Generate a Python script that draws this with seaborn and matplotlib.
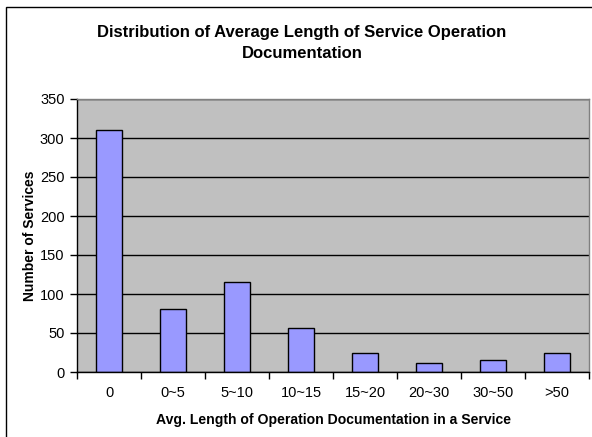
import numpy as np
import pandas as pd
import matplotlib
matplotlib.use('Agg')
import matplotlib.pyplot as plt
import seaborn as sns
from matplotlib.patches import Rectangle

# values
categories = ['0', '0~5', '5~10', '10~15', '15~20', '20~30', '30~50', '>50']
services = [310, 81, 115, 57, 24, 12, 16, 24]

df = pd.DataFrame({'bucket': categories, 'count': services})

sns.set_style('white')
plt.rcParams['font.family'] = ['Liberation Sans', 'DejaVu Sans']
plt.rcParams.update({'text.color': 'black', 'axes.labelcolor': 'black',
                     'xtick.color': 'black', 'ytick.color': 'black'})

fig = plt.figure(figsize=(5.92, 4.37), dpi=100)
ax = fig.add_axes([77 / 592, 65 / 437, 512 / 592, 273 / 437])

ax.set_facecolor('#C0C0C0')
ax.set_axisbelow(True)
ax.yaxis.grid(True, color='black', linewidth=1)

sns.barplot(data=df, x='bucket', y='count', color='#9999FF', width=0.41,
            edgecolor='black', linewidth=1, saturation=1, ax=ax)

ax.set_ylim(0, 350)
ax.set_xlim(-0.5, len(categories) - 0.5)
ax.set_yticks(np.arange(0, 351, 50))
ax.tick_params(axis='y', labelsize=10.5, length=5, width=1, direction='out', pad=4, left=True)
ax.tick_params(axis='x', which='major', labelsize=10.5, length=0, pad=10)
ax.set_xticks(np.arange(-0.5, len(categories), 1), minor=True)
ax.tick_params(axis='x', which='minor', length=5, width=1, direction='out', bottom=True)

for s in ['left', 'bottom']:
    ax.spines[s].set_color('black')
    ax.spines[s].set_linewidth(1)
for s in ['top', 'right']:
    ax.spines[s].set_color('#808080')
    ax.spines[s].set_linewidth(1)

ax.set_xlabel('Avg. Length of Operation Documentation in a Service',
              fontsize=10.1, fontweight='bold', labelpad=9.5)
ax.set_ylabel('Number of Services', fontsize=10, fontweight='bold', labelpad=2)

fig.text(302 / 592, 1 - 43 / 437,
         'Distribution of Average Length of Service Operation\nDocumentation',
         ha='center', va='center', fontsize=12, fontweight='bold', linespacing=1.55)

# chart border frame
fig.patches.append(Rectangle((6 / 592, -0.05), 1.2, 1 - 7 / 437 + 0.05,
                             transform=fig.transFigure, fill=False,
                             edgecolor='black', linewidth=1))

fig.savefig('out.png', dpi=100)
plt.close(fig)
